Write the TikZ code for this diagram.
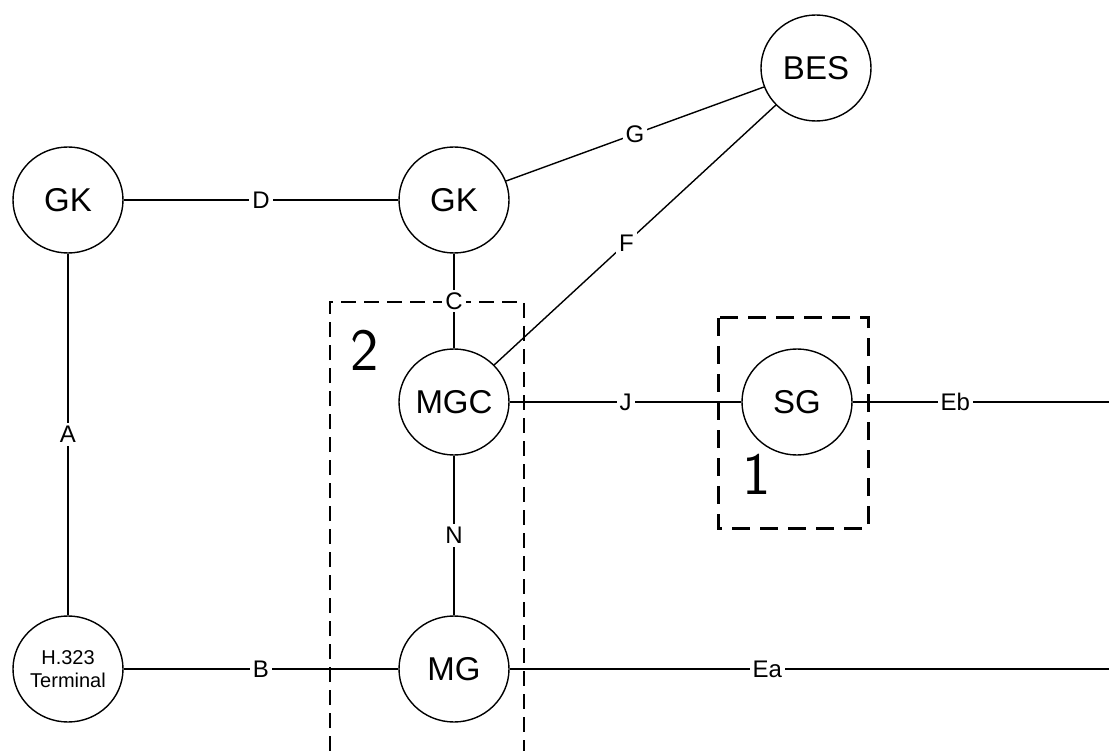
\documentclass[tikz,border=0pt]{standalone}
\usepackage{fontspec}
\setmainfont{Liberation Sans}
\usetikzlibrary{shapes.geometric}
\begin{document}
\begin{tikzpicture}[x=1pt,y=-1pt,
  ent/.style={draw,line width=1.4pt,ellipse,inner sep=0pt,minimum width=110pt,minimum height=106pt,font=\fontsize{33}{36}\selectfont},
  link/.style={line width=1.4pt},
  lbl/.style={fill=white,inner sep=3pt,font=\fontsize{24}{27}\selectfont},
  groupbox/.style={dashed,line width=1.5pt,dash pattern=on 15pt off 8pt},
  numlbl/.style={font=\sffamily\fontsize{60}{64}\selectfont}]
\useasboundingbox (0,0) rectangle (1111,751);
\node[ent] (gkleft) at (68,200) {GK};
\node[ent] (gkmid) at (454,200) {GK};
\node[ent] (bes) at (816,68) {BES};
\node[ent] (mgc) at (454,402) {MGC};
\node[ent] (sg) at (797,402) {SG};
\node[ent] (mg) at (454,669) {MG};
\node[ent,font=\fontsize{20}{23}\selectfont,align=center] (term) at (68,669) {H.323\\Terminal};
\coordinate (ebend) at (1109,402);
\coordinate (eaend) at (1109,669);
\draw[groupbox] (330,751) |- (524,302) -- (524,751);
\draw[groupbox,line width=3pt,dash pattern=on 18pt off 10pt] (718,318) rectangle (868,528);
\node[numlbl] (two) at (365,350) {2};
\node[numlbl] (one) at (757,474) {1};
\draw[link] (gkleft) -- node[lbl] {D} (gkmid);
\draw[link] (gkmid) -- node[lbl] {G} (bes);
\draw[link] (mgc) -- node[lbl,pos=0.47] {F} (bes);
\draw[link] (gkmid) -- node[lbl] {C} (mgc);
\draw[link] (gkleft) -- node[lbl] {A} (term);
\draw[link] (term) -- node[lbl] {B} (mg);
\draw[link] (mgc) -- node[lbl] {J} (sg);
\draw[link] (mgc) -- node[lbl] {N} (mg);
\draw[link] (sg) -- node[lbl,pos=0.4] {Eb} (ebend);
\draw[link] (mg) -- node[lbl,pos=0.43] {Ea} (eaend);
\end{tikzpicture}
\end{document}
